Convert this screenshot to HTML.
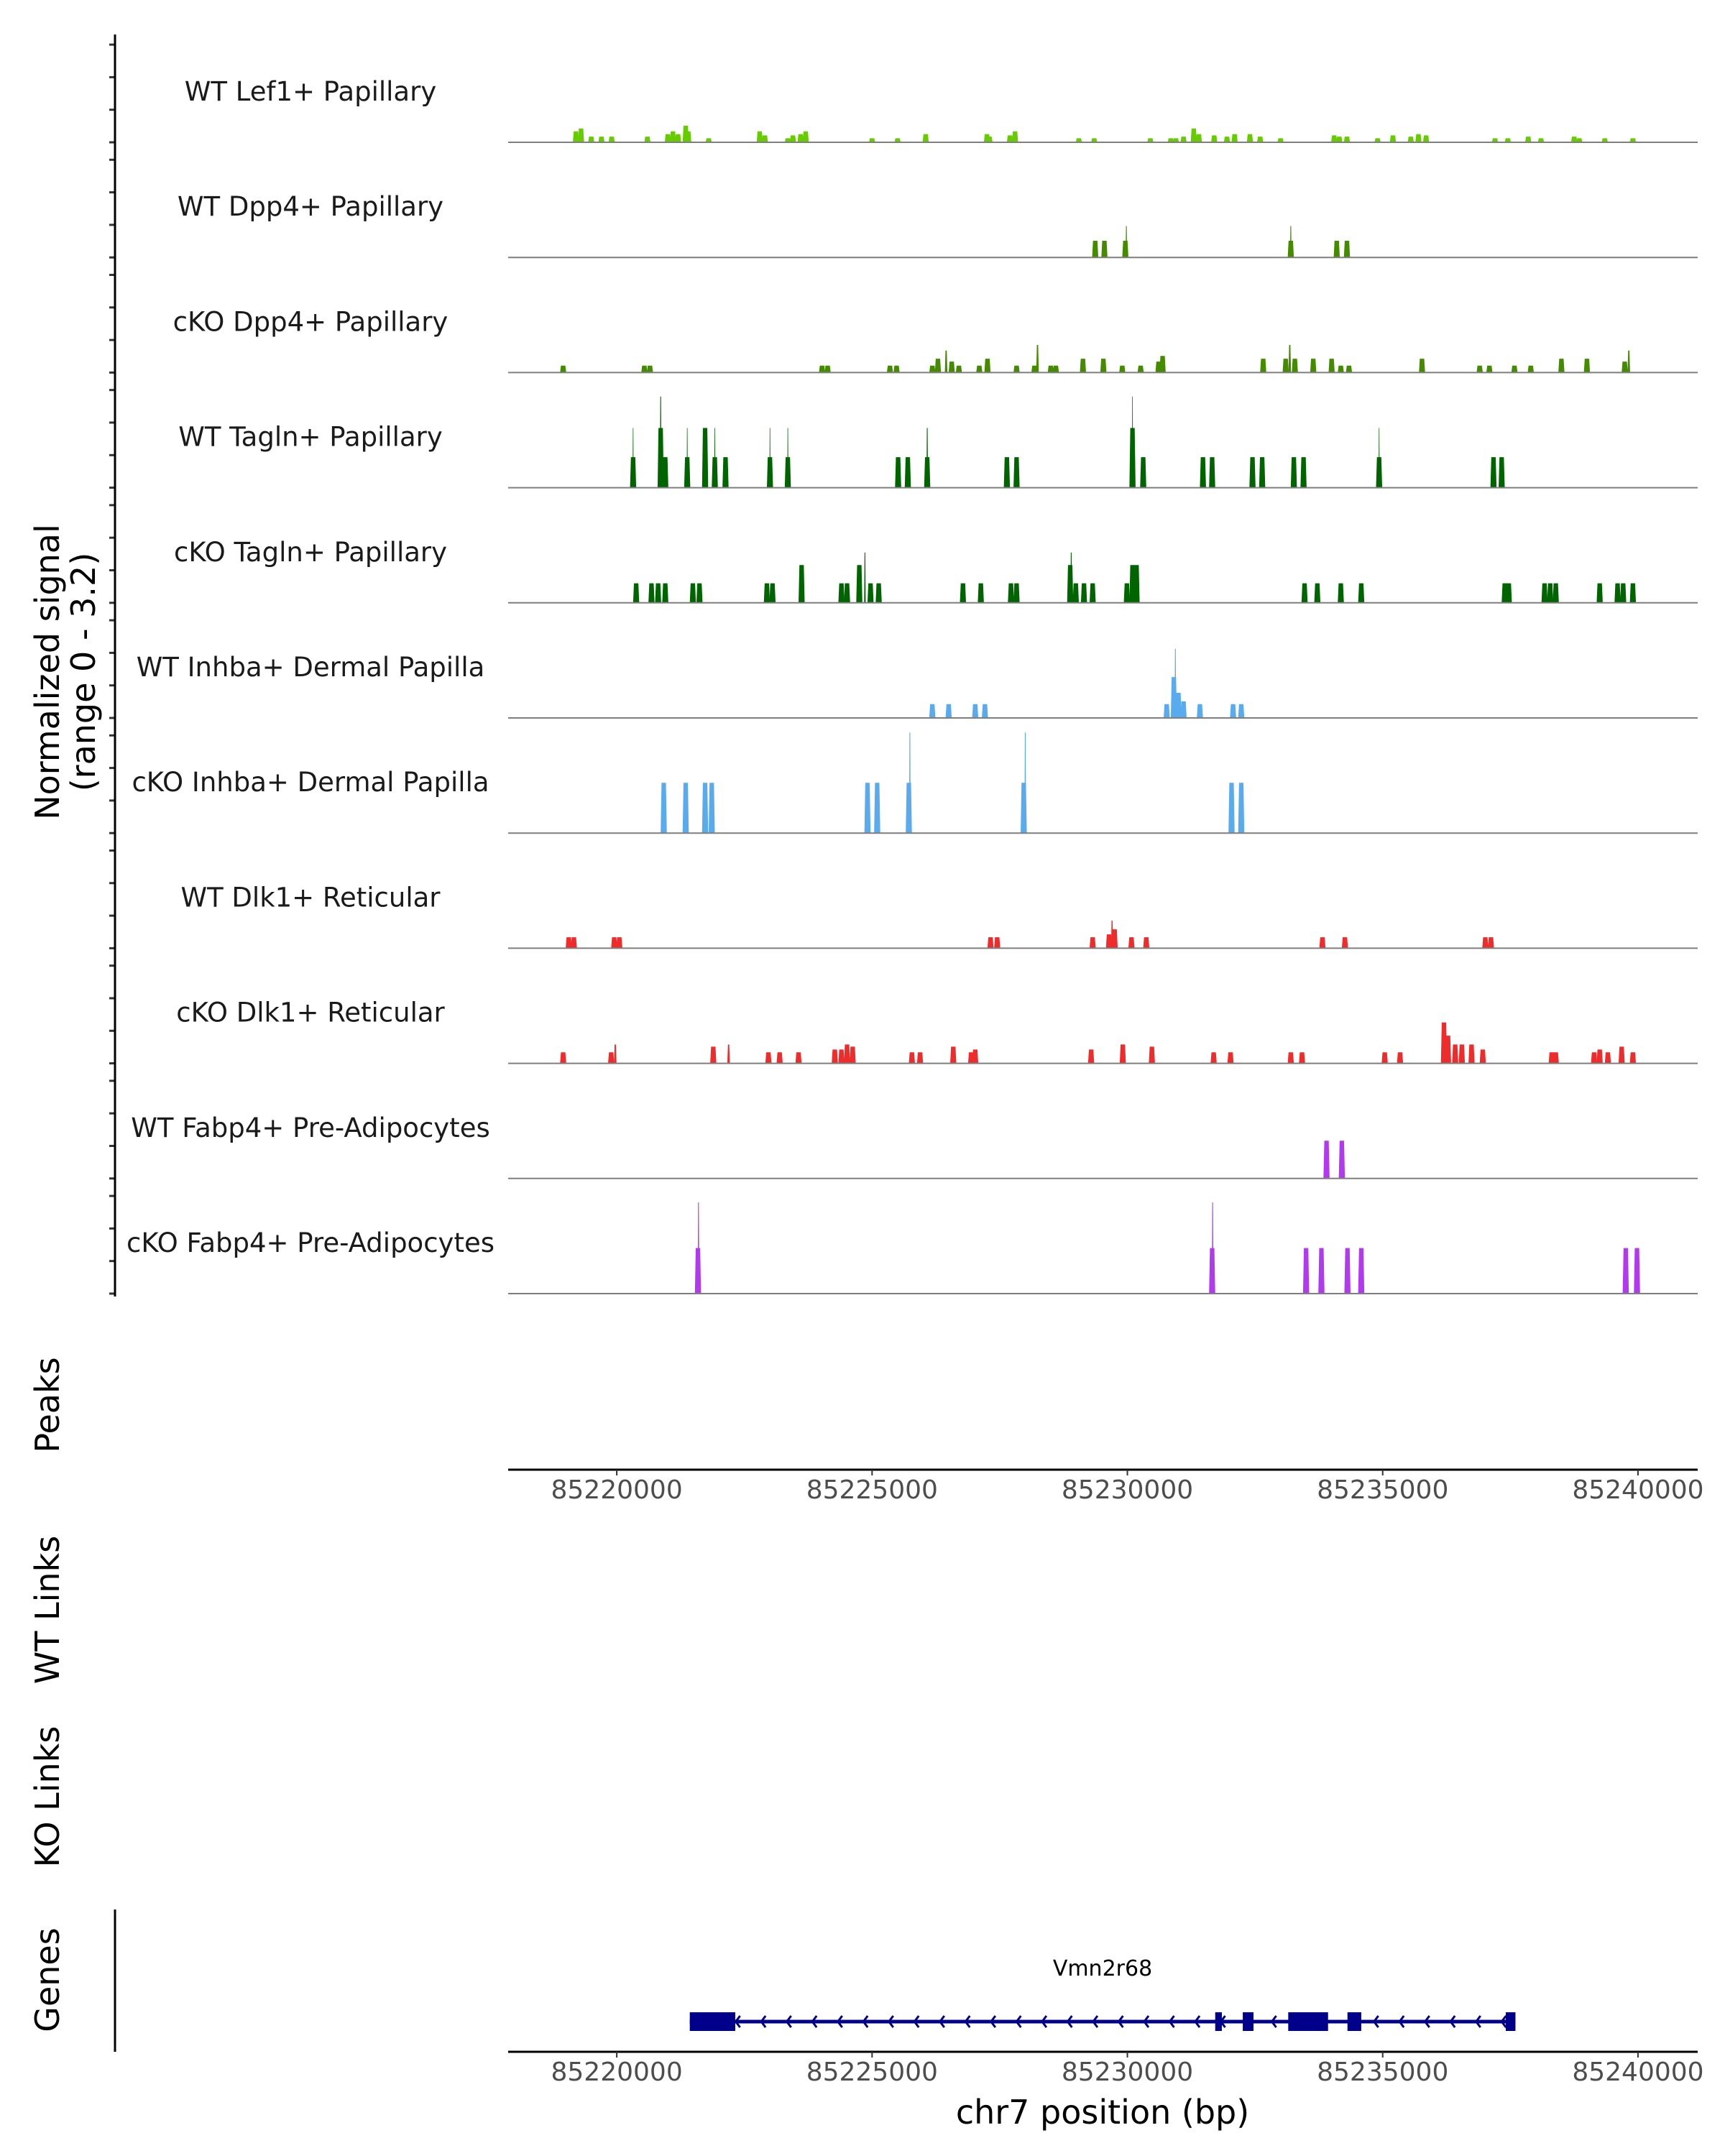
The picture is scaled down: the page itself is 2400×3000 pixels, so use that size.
<!DOCTYPE html>
<html><head><meta charset="utf-8"><style>
html,body{margin:0;padding:0;background:#fff}
svg{display:block;font-family:"DejaVu Sans","Liberation Sans",sans-serif}
</style></head><body>
<svg id="chart" width="2400" height="3000" viewBox="0 0 2400 3000" xmlns="http://www.w3.org/2000/svg">
<g id="tracks"></g>
<g id="axes"></g>
<g id="genes"></g>
</svg>
<script>
const trackNames = ["WT Lef1+ Papillary","WT Dpp4+ Papillary","cKO Dpp4+ Papillary","WT Tagln+ Papillary","cKO Tagln+ Papillary","WT Inhba+ Dermal Papilla","cKO Inhba+ Dermal Papilla","WT Dlk1+ Reticular","cKO Dlk1+ Reticular","WT Fabp4+ Pre-Adipocytes","cKO Fabp4+ Pre-Adipocytes"];
const trackColors = ["#66cc00","#458b00","#458b00","#006400","#006400","#5aaaee","#5aaaee","#ee2c2c","#ee2c2c","#b23aee","#b23aee"];
// peaks: [position kb, signal value, width kb]
const lef1WT = [[85219.2,0.35],[85219.3,0.44],[85219.5,0.18],[85219.7,0.18],[85219.9,0.18],[85220.6,0.18],[85221.0,0.26],[85221.1,0.35],[85221.2,0.26],[85221.35,0.53],[85221.4,0.35],[85221.8,0.13],[85222.8,0.35],[85222.9,0.22],[85223.35,0.13],[85223.45,0.22],[85223.6,0.26],[85223.7,0.35],[85225.0,0.13],[85225.5,0.13],[85226.05,0.26],[85227.25,0.26],[85227.3,0.18],[85227.7,0.22],[85227.8,0.35],[85229.05,0.13],[85229.35,0.13],[85230.45,0.13],[85230.85,0.13],[85230.95,0.13],[85231.1,0.18],[85231.3,0.44],[85231.4,0.26],[85231.7,0.22],[85231.95,0.18],[85232.1,0.26],[85232.4,0.26],[85232.6,0.18],[85233.0,0.13],[85234.05,0.22],[85234.15,0.18],[85234.3,0.18],[85234.9,0.13],[85235.2,0.22],[85235.55,0.18],[85235.7,0.26],[85235.85,0.22],[85237.2,0.13],[85237.45,0.13],[85237.85,0.18],[85238.1,0.13],[85238.75,0.18],[85238.85,0.13],[85239.35,0.13],[85239.9,0.13]];
const dpp4WT = [[85229.37,0.53],[85229.55,0.53],[85229.96,0.53],[85229.98,1.0,0.03],[85233.2,0.53],[85233.2,1.0,0.03],[85234.1,0.53],[85234.3,0.53]];
const dpp4KO = [[85218.95,0.22],[85220.54,0.22],[85220.65,0.22],[85224.02,0.22],[85224.13,0.22],[85225.35,0.22],[85225.48,0.22],[85226.18,0.22],[85226.29,0.44],[85226.45,0.7,0.05],[85226.56,0.35],[85226.7,0.22],[85227.1,0.22],[85227.26,0.44],[85227.83,0.22],[85228.18,0.22],[85228.24,0.88,0.05],[85228.5,0.22],[85228.6,0.22],[85229.13,0.44],[85229.53,0.44],[85229.9,0.22],[85230.26,0.22],[85230.61,0.35],[85230.69,0.53],[85232.66,0.44],[85233.1,0.44],[85233.18,0.88,0.05],[85233.28,0.44],[85233.64,0.44],[85234.0,0.44],[85234.18,0.22],[85234.34,0.22],[85235.77,0.44],[85236.9,0.22],[85237.09,0.22],[85237.58,0.22],[85237.9,0.22],[85238.5,0.44],[85239.0,0.44],[85239.74,0.35],[85239.82,0.7,0.05]];
const taglnWT = [[85220.32,0.97],[85220.32,1.9,0.02],[85220.86,1.9],[85220.86,2.9,0.03],[85220.95,0.97],[85221.38,0.97],[85221.38,1.9,0.02],[85221.73,1.9],[85221.92,0.97],[85221.92,1.9,0.02],[85222.13,0.97],[85223.0,0.97],[85223.0,1.9,0.02],[85223.35,0.97],[85223.35,1.9,0.02],[85225.51,0.97],[85225.7,0.97],[85226.08,0.97],[85226.08,1.9,0.03],[85227.64,0.97],[85227.83,0.97],[85230.1,1.9],[85230.1,2.9,0.02],[85230.31,0.97],[85231.48,0.97],[85231.66,0.97],[85232.45,0.97],[85232.64,0.97],[85233.26,0.97],[85233.45,0.97],[85234.93,0.97],[85234.93,1.9,0.02],[85237.17,0.97],[85237.33,0.97]];
const taglnKO = [[85220.38,0.62],[85220.68,0.62],[85220.81,0.62],[85220.95,0.62],[85221.49,0.62],[85221.62,0.62],[85222.94,0.62],[85223.05,0.62],[85223.62,1.2],[85224.4,0.62],[85224.51,0.62],[85224.75,1.2],[85224.86,1.6,0.03],[85224.97,0.62],[85225.13,0.62],[85226.78,0.62],[85227.13,0.62],[85227.72,0.62],[85227.83,0.62],[85228.88,1.2],[85228.9,1.6,0.03],[85228.99,0.62],[85229.15,0.62],[85229.32,0.62],[85229.99,0.62],[85230.1,1.2],[85230.18,1.2],[85233.47,0.62],[85233.72,0.62],[85234.18,0.62],[85234.58,0.62],[85237.39,0.62],[85237.47,0.62],[85238.17,0.62],[85238.28,0.62],[85238.39,0.62],[85239.25,0.62],[85239.6,0.62],[85239.71,0.62],[85239.9,0.62]];
const inhbaWT = [[85226.18,0.44],[85226.5,0.44],[85227.02,0.44],[85227.21,0.44],[85230.77,0.44],[85230.91,1.3],[85230.94,2.2,0.03],[85231.0,0.8],[85231.1,0.53],[85231.42,0.44],[85232.07,0.44],[85232.23,0.44]];
const inhbaKO = [[85220.92,1.6],[85221.35,1.6],[85221.73,1.6],[85221.86,1.6],[85224.91,1.6],[85225.1,1.6],[85225.72,1.6],[85225.74,3.2,0.03],[85227.97,1.6],[85228.0,3.2,0.03],[85232.04,1.6],[85232.23,1.6]];
const dlk1WT = [[85219.06,0.35],[85219.16,0.35],[85219.95,0.35],[85220.05,0.35],[85227.32,0.35],[85227.45,0.35],[85229.32,0.35],[85229.64,0.44],[85229.7,0.88,0.04],[85229.75,0.6],[85230.08,0.35],[85230.37,0.35],[85233.82,0.35],[85234.26,0.35],[85237.01,0.35],[85237.12,0.35]];
const dlk1KO = [[85218.95,0.35],[85219.89,0.35],[85219.97,0.6,0.05],[85221.89,0.53],[85222.19,0.6,0.05],[85222.97,0.35],[85223.19,0.35],[85223.56,0.35],[85224.27,0.44],[85224.4,0.44],[85224.51,0.6],[85224.62,0.53],[85225.78,0.35],[85225.94,0.35],[85226.59,0.53],[85226.94,0.35],[85227.02,0.44],[85229.29,0.44],[85229.91,0.6],[85230.48,0.53],[85231.69,0.35],[85232.02,0.35],[85233.2,0.35],[85233.42,0.35],[85235.04,0.35],[85235.34,0.35],[85236.2,1.3],[85236.28,0.88],[85236.42,0.6],[85236.55,0.6],[85236.74,0.6],[85236.96,0.44],[85238.31,0.35],[85238.39,0.35],[85239.14,0.35],[85239.25,0.44],[85239.41,0.35],[85239.68,0.53],[85239.9,0.35]];
const fabp4WT = [[85233.9,1.2],[85234.2,1.2]];
const fabp4KO = [[85221.59,1.45],[85221.6,2.9,0.03],[85231.66,1.45],[85231.67,2.9,0.03],[85233.5,1.45],[85233.8,1.45],[85234.31,1.45],[85234.58,1.45],[85239.76,1.45],[85239.98,1.45]];
const trackData = [lef1WT,dpp4WT,dpp4KO,taglnWT,taglnKO,inhbaWT,inhbaKO,dlk1WT,dlk1KO,fabp4WT,fabp4KO];
const xTicks = [85220000,85225000,85230000,85235000,85240000];
const geneName = "Vmn2r68";
const geneSpan = [85221.43,85237.6];
const geneExons = [[85221.43,85222.32],[85231.72,85231.85],[85232.26,85232.47],[85233.15,85233.93],[85234.31,85234.58],[85237.41,85237.6]];

const NS="http://www.w3.org/2000/svg";
const X0=707,X1=2362,BP0=85217873,BP1=85241169;
const xs = bp => X0+(bp-BP0)/(BP1-BP0)*(X1-X0);
const xk = kb => xs(kb*1000);
const YMAX=3.2, TH=140;
const base0=198, step=160.2;
function mk(tag, attrs, parent){const e=document.createElementNS(NS,tag);for(const k in attrs)e.setAttribute(k,attrs[k]);parent.appendChild(e);return e;}
const gT=document.getElementById('tracks'), gA=document.getElementById('axes'), gG=document.getElementById('genes');

trackData.forEach((peaks,i)=>{
  const by=base0+i*step;
  const g=mk('g',{},gT);
  
  
  peaks.forEach(p=>{
    const w=(p[2]||0.12);
    const xa=xk(p[0]-w/2), xb=xk(p[0]+w/2);
    const h=Math.min(p[1],YMAX)/YMAX*TH;
    const inset=Math.min(1.2,(xb-xa)/4);
    const poly=mk('polygon',{points:`${xa},${by} ${xa+inset},${by-h} ${xb-inset},${by-h} ${xb},${by}`,fill:trackColors[i]},g);
    
    
  });
  const bl=mk('line',{x1:X0,x2:X1,y1:by,y2:by,stroke:'#7f7f7f','stroke-width':2},g);
  
  
  const lb=mk('text',{x:432,y:by-58,'text-anchor':'middle','font-size':37,fill:'#1a1a1a'},g);
  lb.textContent=trackNames[i];
  
  
  for(let k=0;k<4;k++){
    const ty=by-k*45.3;
    const t=mk('line',{x1:152,x2:160,y1:ty,y2:ty,stroke:'#333','stroke-width':3},gA);
    
    
  }
});
const ya=mk('line',{x1:160,x2:160,y1:48,y2:1804,stroke:'#000','stroke-width':3},gA);



function xAxis(y, name){
  const l=mk('line',{x1:X0,x2:X1,y1:y,y2:y,stroke:'#000','stroke-width':3},gA);
  
  
  xTicks.forEach(t=>{
    const x=xs(t);
    const tk=mk('line',{x1:x,x2:x,y1:y,y2:y+8,stroke:'#333','stroke-width':2},gA);
    
    
    const tl=mk('text',{x:x,y:y+40,'text-anchor':'middle','font-size':36,fill:'#4d4d4d'},gA);
    tl.textContent=String(t);
    
    
  });
}
xAxis(2045,'peaks-x-axis');
xAxis(2855,'genes-x-axis');

function vtitle(lines,x,y,name){
  const t=mk('text',{transform:`translate(${x},${y}) rotate(-90)`,'text-anchor':'middle','font-size':46,fill:'#000'},gA);
  lines.forEach((s,j)=>{const ts=mk('tspan',{x:0,dy:j===0?0:50},t);ts.textContent=s;});
  
  
}
vtitle(["Normalized signal","(range 0 - 3.2)"],82,935,'y-axis-title');
vtitle(["Peaks"],82,1955,'peaks-title');
vtitle(["WT Links"],82,2240,'wt-links-title');
vtitle(["KO Links"],82,2500,'ko-links-title');
vtitle(["Genes"],82,2755,'genes-title');

const xt=mk('text',{x:1534,y:2955,'text-anchor':'middle','font-size':46,fill:'#000'},gA);
xt.textContent="chr7 position (bp)";



const ga=mk('line',{x1:160,x2:160,y1:2657,y2:2855,stroke:'#000','stroke-width':3},gG);


const gy=2813, gc='#00008b';
const il=mk('line',{x1:xk(geneSpan[0]),x2:xk(geneSpan[1]),y1:gy,y2:gy,stroke:gc,'stroke-width':5},gG);


for(let kb=geneSpan[0]+0.9;kb<geneSpan[1]-0.1;kb+=0.5){
  const x=xk(kb);
  const a=mk('polyline',{points:`${x+6},${gy-8} ${x},${gy} ${x+6},${gy+8}`,fill:'none',stroke:gc,'stroke-width':3},gG);
  
  
}
geneExons.forEach(e=>{
  const r=mk('rect',{x:xk(e[0]),y:gy-13,width:Math.max(4,xk(e[1])-xk(e[0])),height:26,fill:gc},gG);
  
  
});
const gl=mk('text',{x:1534,y:2749,'text-anchor':'middle','font-size':30,fill:'#000'},gG);
gl.textContent=geneName;


</script>
</body></html>
